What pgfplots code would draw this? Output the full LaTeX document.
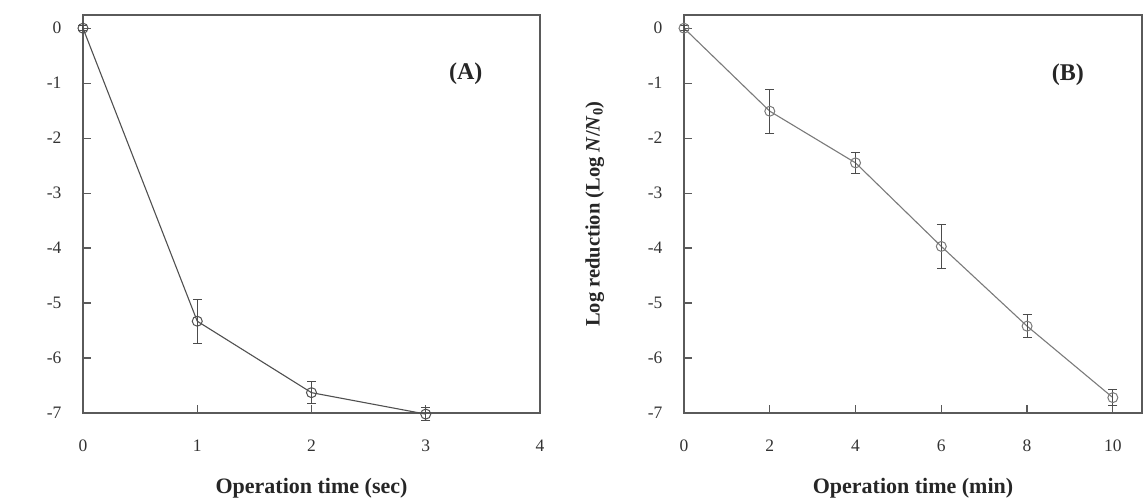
\documentclass[border=0pt]{standalone}
\usepackage{pgfplots}
\pgfplotsset{compat=1.18}
\usepackage{fontspec}
\setmainfont{Liberation Serif}
\definecolor{axgray}{HTML}{5A5A5A}
\definecolor{lineA}{HTML}{505050}
\definecolor{lineB}{HTML}{7A7A7A}
\pgfplotsset{
  myaxis/.style={
    scale only axis, width=457pt, height=398pt,
    anchor=south west,
    ymin=-7, ymax=0.24,
    ytick={0,-1,-2,-3,-4,-5,-6,-7},
    tick align=inside, major tick length=8pt,
    xtick pos=bottom, ytick pos=left,
    axis line style={axgray, line width=1.2pt},
    every tick/.style={axgray, line width=1.2pt},
    /pgf/number format/assume math mode=true,
    tick label style={font=\fontsize{17.5}{17.5}\selectfont, text=black!80},
    yticklabel style={xshift=-18pt},
    xticklabel style={yshift=-23pt},
    xlabel style={font=\fontsize{22}{22}\selectfont\bfseries, text=black!85, yshift=-20pt},
    ylabel style={font=\fontsize{20.5}{20.5}\selectfont\bfseries, text=black!85, yshift=37pt},
    clip=false,
    ylabel={Log reduction (Log \textit{N}/\textit{N}\textsubscript{0})},
  },
  myplot/.style={
    line width=1.1pt, mark=o, mark size=5pt,
    mark options={solid, line width=1pt},
    error bars/.cd, y dir=both, y explicit,
    error bar style={line width=1pt, color=black!70},
    error mark options={rotate=90, mark size=4.5pt, line width=1pt, color=black!70},
  },
}
\begin{document}
\begin{tikzpicture}[x=1pt,y=1pt]
\begin{axis}[myaxis, at={(83pt,85pt)},
  xmin=0, xmax=4, xtick={0,1,2,3,4},
  xlabel={Operation time (sec)},
  ylabel style={yshift=7pt}]
\addplot[lineA, myplot] coordinates {
  (0,0) +- (0,0.05)
  (1,-5.33) +- (0,0.40)
  (2,-6.63) +- (0,0.20)
  (3,-7.02) +- (0,0.12)
};
\node[font=\fontsize{24}{24}\selectfont\bfseries, text=black!85] at (axis cs:3.35,-0.82) {(A)};
\end{axis}
\begin{axis}[myaxis, at={(684pt,85pt)}, width=458pt,
  xmin=0, xmax=10.68, xtick={0,2,4,6,8,10},
  xlabel={Operation time (min)}]
\addplot[lineB, myplot] coordinates {
  (0,0) +- (0,0.05)
  (2,-1.51) +- (0,0.40)
  (4,-2.45) +- (0,0.19)
  (6,-3.97) +- (0,0.40)
  (8,-5.42) +- (0,0.21)
  (10,-6.72) +- (0,0.15)
};
\node[font=\fontsize{24}{24}\selectfont\bfseries, text=black!85] at (axis cs:8.95,-0.85) {(B)};
\end{axis}
\pgfresetboundingbox
\useasboundingbox (0,0) rectangle (1145,498);
\end{tikzpicture}
\end{document}
